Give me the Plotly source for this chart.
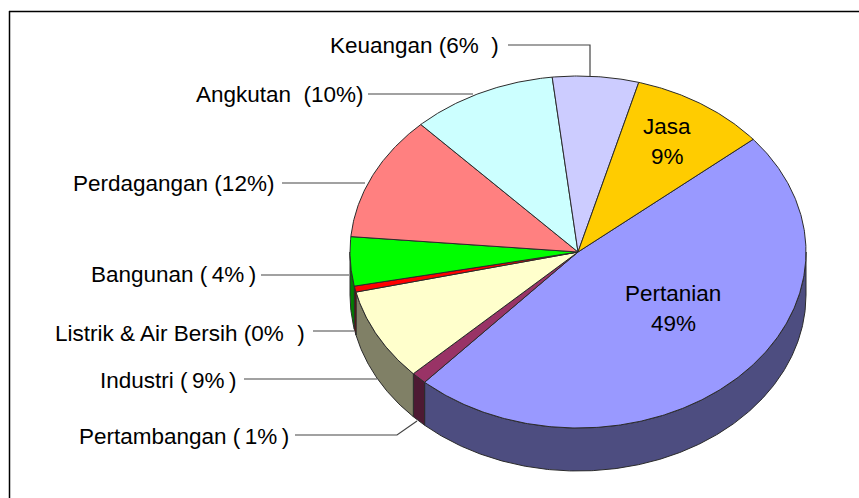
import math
import plotly.graph_objects as go

# Data: shares, clockwise from the top-right start
categories = ["Pertanian", "Pertambangan", "Industri", "Listrik & Air Bersih",
              "Bangunan", "Perdagangan", "Angkutan", "Keuangan", "Jasa"]
values = [47.8, 1.1, 8.5, 0.55, 4.5, 11.5, 10.3, 6.1, 9.65]
top_colors = ["#9999FF", "#993366", "#FFFFCC", "#FF0000", "#00FF00",
              "#FF8080", "#CCFFFF", "#CCCCFF", "#FFCC00"]
side_colors = ["#4D4D80", "#4D1A33", "#808066", "#800000", "#008000",
               "#804040", "#668080", "#666680", "#806600"]

START = 50.2
CX, CY, RX, RY, DEPTH = 578, 252, 228, 176, 43
FONT = "Liberation Sans, Arial, sans-serif"
FS = 22.5

outside_labels = [  # text, left x, centre y
    ("Keuangan (6%  )", 328, 45),
    ("Angkutan  (10%)", 194, 94),
    ("Perdagangan (12%)", 71, 183),
    ("Bangunan (\u20094%\u2009)", 89, 274),
    ("Listrik & Air Bersih (0%\u2009\u2009\u2009)", 53, 333),
    ("Industri (\u20099%\u2009)", 98, 380),
    ("Pertambangan (\u20091%\u2009)", 77, 436),
]
inside_labels = [("Jasa", 667, 126), ("9%", 667, 156),
                 ("Pertanian", 673, 293), ("49%", 673, 323)]
leaders = [
    ([508, 590, 590], [45, 45, 76]),
    ([368, 473], [94, 94]),
    ([282, 365], [183, 183]),
    ([261, 349], [275, 275]),
    ([313, 354], [331, 331]),
    ([244, 377], [379, 379]),
    ([295, 397, 417], [435, 435, 421]),
]


def arc(a0, a1, dy=0, n=None):
    n = n or max(2, int(abs(a1 - a0) * 2) + 1)
    xs, ys = [], []
    for i in range(n):
        t = math.radians(a0 + (a1 - a0) * i / (n - 1))
        xs.append(CX + RX * math.sin(t))
        ys.append(CY - RY * math.cos(t) + dy)
    return xs, ys


fig = go.Figure()
line = dict(color="#2b2b2b", width=1)

spans = []
a = START
total = sum(values)
for v in values:
    b = a + v / total * 360
    spans.append((a, b))
    a = b

# side wall: only the part of each slice on the near half of the rim
for (a0, a1), col, name in zip(spans, side_colors, categories):
    s0, s1 = max(a0, 90), min(a1, 270)
    if s1 <= s0:
        continue
    x1, y1 = arc(s0, s1)
    x2, y2 = arc(s1, s0, DEPTH)
    fig.add_trace(go.Scatter(x=x1 + x2 + x1[:1], y=y1 + y2 + y1[:1], mode="lines",
                             fill="toself", fillcolor=col, line=line,
                             name=name, hoverinfo="skip", showlegend=False))

# top face
for (a0, a1), col, name, v in zip(spans, top_colors, categories, values):
    xs, ys = arc(a0, a1)
    fig.add_trace(go.Scatter(x=[CX] + xs + [CX], y=[CY] + ys + [CY], mode="lines",
                             fill="toself", fillcolor=col, line=line,
                             name=name, text=f"{name}: {v}", hoverinfo="text",
                             showlegend=False))

for lx, ly in leaders:
    fig.add_trace(go.Scatter(x=lx, y=ly, mode="lines", hoverinfo="skip", showlegend=False,
                             line=dict(color="#444444", width=1.2)))

for text, x, y in outside_labels:
    fig.add_annotation(x=x, y=y, text=text, showarrow=False, xanchor="left", yanchor="middle",
                       font=dict(family=FONT, size=FS, color="black"))
for text, x, y in inside_labels:
    fig.add_annotation(x=x, y=y, text=text, showarrow=False, xanchor="center", yanchor="middle",
                       font=dict(family=FONT, size=FS, color="black"))

fig.add_shape(type="line", x0=9, x1=859, y0=11.5, y1=11.5, line=dict(color="black", width=1.5))
fig.add_shape(type="line", x0=9.5, x1=9.5, y0=11, y1=498, line=dict(color="black", width=1.5))

fig.update_layout(
    width=859, height=498, margin=dict(l=0, r=0, t=0, b=0),
    paper_bgcolor="white", plot_bgcolor="white",
    xaxis=dict(range=[0, 859], visible=False, fixedrange=True),
    yaxis=dict(range=[498, 0], visible=False, fixedrange=True),
)
fig.write_html("out.html", post_script="document.body.style.margin='0';document.body.style.overflow='hidden';",
               config=dict(displayModeBar=False))
